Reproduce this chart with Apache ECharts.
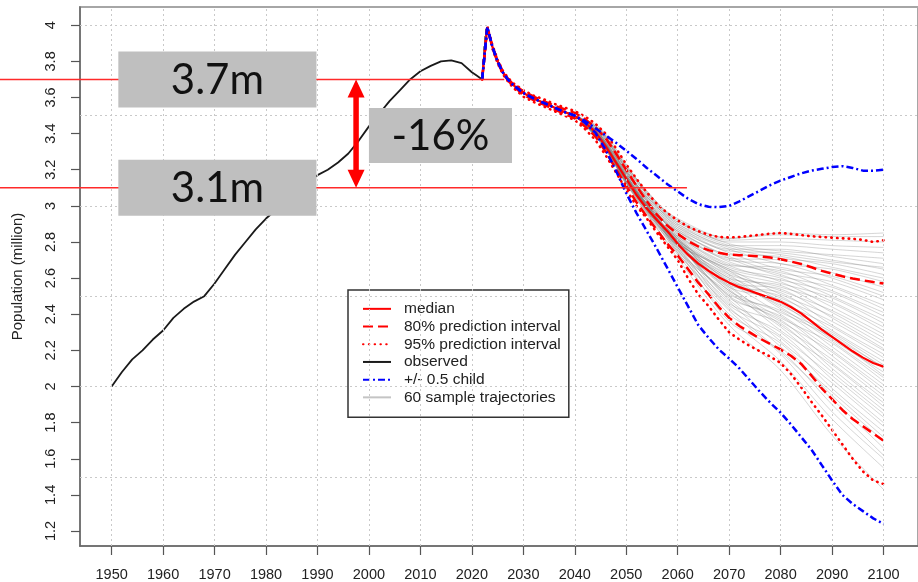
<!DOCTYPE html>
<html>
<head>
<meta charset="utf-8">
<script src="https://cdn.jsdelivr.net/npm/echarts@6/dist/echarts.min.js"></script>
<style>
html,body{margin:0;padding:0;background:#fff;}
#chart{width:918px;height:582px;}
</style>
</head>
<body>
<div id="chart"></div>
<script>
// ---------- data ----------
const obsYears = [1950,1952,1954,1956,1958,1960,1962,1964,1966,1968,1970,1972,1974,1976,1978,1980,1982,1984,1986,1988,1990,1992,1994,1996,1998,2000,2002,2004,2006,2008,2010,2012,2014,2016,2018,2020,2021,2022];
const obsValues = [2.00,2.08,2.15,2.20,2.26,2.31,2.38,2.43,2.47,2.50,2.57,2.65,2.73,2.80,2.87,2.93,2.98,3.03,3.08,3.13,3.17,3.20,3.24,3.29,3.36,3.44,3.51,3.58,3.64,3.70,3.745,3.775,3.80,3.805,3.79,3.74,3.72,3.70];

const fcYears = [2022,2023,2024,2025,2026,2027,2028,2030,2032,2034,2036,2038,2040,2042,2044,2046,2048,2050,2052,2054,2056,2058,2060,2062,2064,2066,2068,2070,2072,2074,2076,2078,2080,2082,2084,2086,2088,2090,2092,2094,2096,2098,2100];
const median = [3.70,3.99,3.88,3.80,3.74,3.70,3.67,3.625,3.595,3.57,3.545,3.52,3.50,3.46,3.41,3.33,3.24,3.15,3.06,2.985,2.92,2.86,2.79,2.73,2.68,2.64,2.605,2.575,2.55,2.53,2.51,2.49,2.47,2.44,2.405,2.36,2.315,2.275,2.235,2.195,2.16,2.13,2.11];
const hi80 = [3.70,3.99,3.885,3.805,3.745,3.705,3.675,3.635,3.605,3.58,3.555,3.535,3.515,3.48,3.435,3.375,3.29,3.20,3.11,3.025,2.95,2.89,2.845,2.805,2.775,2.755,2.74,2.73,2.727,2.724,2.72,2.714,2.705,2.692,2.678,2.66,2.64,2.625,2.61,2.598,2.588,2.578,2.57];
const lo80 = [3.70,3.99,3.875,3.795,3.735,3.695,3.665,3.615,3.585,3.56,3.535,3.51,3.485,3.44,3.385,3.30,3.205,3.11,3.02,2.94,2.865,2.79,2.725,2.65,2.575,2.51,2.44,2.38,2.335,2.30,2.265,2.235,2.205,2.17,2.125,2.06,1.99,1.93,1.87,1.82,1.78,1.74,1.70];
const hi95 = [3.70,3.99,3.89,3.81,3.75,3.71,3.68,3.64,3.61,3.59,3.565,3.545,3.525,3.495,3.455,3.40,3.32,3.23,3.15,3.075,3.01,2.96,2.92,2.885,2.86,2.84,2.828,2.825,2.828,2.834,2.84,2.846,2.85,2.845,2.838,2.832,2.828,2.824,2.82,2.818,2.812,2.80,2.81];
const lo95 = [3.70,3.99,3.87,3.79,3.73,3.69,3.655,3.605,3.575,3.55,3.525,3.50,3.475,3.425,3.365,3.28,3.185,3.09,3.00,2.93,2.85,2.775,2.70,2.60,2.51,2.445,2.37,2.30,2.26,2.225,2.195,2.165,2.13,2.07,1.995,1.915,1.84,1.76,1.68,1.60,1.53,1.48,1.46];
const childHi = [3.70,3.99,3.88,3.80,3.74,3.70,3.67,3.625,3.595,3.57,3.545,3.52,3.50,3.47,3.43,3.39,3.35,3.305,3.26,3.21,3.165,3.12,3.08,3.04,3.01,2.995,2.993,3.00,3.025,3.055,3.085,3.115,3.14,3.16,3.18,3.195,3.205,3.215,3.22,3.21,3.195,3.195,3.20];
const childLo = [3.70,3.99,3.88,3.80,3.74,3.70,3.67,3.625,3.595,3.57,3.545,3.52,3.50,3.46,3.405,3.31,3.195,3.07,2.96,2.86,2.76,2.655,2.55,2.445,2.34,2.27,2.205,2.155,2.10,2.035,1.97,1.91,1.855,1.79,1.72,1.65,1.565,1.48,1.40,1.35,1.31,1.27,1.24];

// sample trajectories: shared path up to 2040 (same as median), then these values
const trajYears = [2045,2050,2055,2060,2070,2080,2090,2100];
const trajectories = [
[3.36,3.12,2.92,2.71,2.34,2.09,1.73,1.43],[3.35,3.13,2.91,2.73,2.38,2.14,1.82,1.55],
[3.36,3.12,2.93,2.74,2.42,2.18,1.86,1.60],[3.35,3.14,2.92,2.76,2.36,2.20,1.90,1.62],
[3.37,3.13,2.94,2.74,2.44,2.19,1.93,1.66],[3.36,3.14,2.93,2.77,2.40,2.24,1.95,1.70],
[3.38,3.12,2.95,2.75,2.47,2.22,1.97,1.72],[3.36,3.15,2.93,2.78,2.43,2.27,1.99,1.75],
[3.37,3.13,2.96,2.76,2.50,2.25,2.02,1.78],[3.35,3.16,2.94,2.77,2.45,2.30,2.04,1.80],
[3.38,3.14,2.95,2.79,2.48,2.28,2.06,1.83],[3.37,3.15,2.97,2.75,2.52,2.33,2.08,1.85],
[3.36,3.13,2.94,2.80,2.46,2.35,2.10,1.87],[3.38,3.16,2.96,2.77,2.54,2.31,2.12,1.89],
[3.37,3.14,2.95,2.79,2.50,2.37,2.13,1.91],[3.36,3.15,2.97,2.78,2.56,2.34,2.15,1.93],
[3.38,3.13,2.95,2.81,2.49,2.39,2.17,1.95],[3.37,3.16,2.96,2.78,2.53,2.36,2.19,1.97],
[3.36,3.14,2.94,2.80,2.58,2.40,2.20,1.99],[3.38,3.15,2.97,2.79,2.51,2.42,2.22,2.01],
[3.37,3.16,2.95,2.81,2.55,2.38,2.24,2.03],[3.36,3.14,2.96,2.78,2.60,2.44,2.25,2.05],
[3.38,3.15,2.94,2.82,2.53,2.41,2.27,2.06],[3.37,3.13,2.97,2.79,2.57,2.46,2.26,2.08],
[3.36,3.16,2.95,2.81,2.62,2.43,2.29,2.10],[3.38,3.14,2.96,2.80,2.55,2.48,2.28,2.11],
[3.37,3.15,2.94,2.78,2.59,2.45,2.30,2.12],[3.36,3.17,2.97,2.82,2.57,2.50,2.31,2.14],
[3.38,3.14,2.95,2.79,2.64,2.47,2.33,2.16],[3.37,3.16,2.96,2.81,2.56,2.52,2.34,2.18],
[3.39,3.15,2.98,2.80,2.61,2.49,2.36,2.20],[3.37,3.17,2.95,2.83,2.58,2.54,2.38,2.21],
[3.38,3.14,2.97,2.79,2.65,2.51,2.39,2.23],[3.36,3.16,2.96,2.82,2.60,2.56,2.41,2.25],
[3.39,3.15,2.98,2.81,2.63,2.53,2.42,2.27],[3.37,3.17,2.96,2.83,2.67,2.58,2.44,2.29],
[3.38,3.16,2.97,2.80,2.62,2.55,2.46,2.31],[3.39,3.18,2.99,2.84,2.66,2.60,2.47,2.33],
[3.37,3.15,2.96,2.82,2.64,2.57,2.49,2.35],[3.38,3.17,2.98,2.85,2.69,2.62,2.50,2.37],
[3.39,3.16,2.97,2.81,2.65,2.59,2.52,2.39],[3.38,3.18,2.99,2.84,2.68,2.64,2.53,2.41],
[3.37,3.17,2.98,2.86,2.71,2.61,2.55,2.43],[3.39,3.19,3.00,2.83,2.67,2.66,2.56,2.45],
[3.38,3.17,2.98,2.86,2.72,2.63,2.58,2.48],[3.40,3.18,3.00,2.85,2.70,2.68,2.60,2.50],
[3.38,3.19,2.99,2.87,2.74,2.65,2.61,2.52],[3.39,3.18,3.01,2.86,2.71,2.70,2.63,2.55],
[3.40,3.20,3.00,2.88,2.76,2.68,2.65,2.58],[3.39,3.19,3.02,2.87,2.73,2.72,2.66,2.60],
[3.41,3.20,3.01,2.89,2.77,2.71,2.68,2.62],[3.40,3.21,3.03,2.88,2.75,2.74,2.70,2.65],
[3.41,3.19,3.02,2.90,2.78,2.73,2.69,2.66],[3.40,3.21,3.03,2.89,2.76,2.76,2.72,2.68],
[3.42,3.20,3.02,2.91,2.79,2.75,2.73,2.71],[3.41,3.22,3.04,2.90,2.78,2.78,2.76,2.74],
[3.42,3.21,3.03,2.92,2.80,2.80,2.78,2.77],[3.42,3.22,3.05,2.91,2.81,2.82,2.81,2.80],
[3.43,3.23,3.04,2.93,2.82,2.84,2.83,2.83],[3.42,3.22,3.05,2.92,2.82,2.85,2.84,2.85]
];

const xTicks = [1950,1960,1970,1980,1990,2000,2010,2020,2030,2040,2050,2060,2070,2080,2090,2100];
const yTicks = [1.2,1.4,1.6,1.8,2,2.2,2.4,2.6,2.8,3,3.2,3.4,3.6,3.8,4];
const yGrid = [1.5,2,2.5,3,3.5,4];

// annotations (overlay)
const refLevels = [3.7, 3.1];
const refLabels = ['3.7m', '3.1m'];
const changeLabel = '-16%';

// ---------- build ----------
const pairs = (xs, ys) => xs.map((x, i) => [x, ys[i]]);
const FONT = 'Liberation Sans';
const RED = '#ff0000', BLUE = '#0000ff';

const series = [];
// dotted grid
series.push({
  type: 'line', name: 'gridlines', data: [[1950, 2]], symbol: 'none', silent: true, z: 1,
  lineStyle: { opacity: 0 }, animation: false,
  markLine: {
    silent: true, symbol: ['none', 'none'], animation: false,
    label: { show: false },
    lineStyle: { type: [2, 3], color: '#c9c9c9', width: 1 },
    emphasis: { disabled: true },
    data: yGrid.map(v => ({ yAxis: v })).concat(xTicks.map(v => ({ xAxis: v })))
  }
});
const trajPrefixYears = fcYears.slice(0, 13);
const trajPrefixVals = median.slice(0, 13);
trajectories.forEach(row => {
  series.push({
    type: 'line', name: '60 sample trajectories', symbol: 'none', silent: true, z: 2,
    smooth: 0.3, lineStyle: { color: 'rgba(120,120,120,0.3)', width: 1 },
    data: pairs(trajPrefixYears.concat(trajYears), trajPrefixVals.concat(row))
  });
});
[hi95, lo95].forEach(arr => series.push({
  type: 'line', name: '95% prediction interval', symbol: 'none', silent: true, z: 3,
  lineStyle: { color: RED, width: 2.6, type: [0.5, 5.3], cap: 'round' },
  data: pairs(fcYears, arr)
}));
[hi80, lo80].forEach(arr => series.push({
  type: 'line', name: '80% prediction interval', symbol: 'none', silent: true, z: 3,
  lineStyle: { color: RED, width: 2.5, type: [10, 5] },
  data: pairs(fcYears, arr)
}));
series.push({
  type: 'line', name: 'median', symbol: 'none', silent: true, z: 4,
  lineStyle: { color: RED, width: 2.2 }, data: pairs(fcYears, median)
});
series.push({
  type: 'line', name: 'observed', symbol: 'none', silent: true, z: 4,
  lineStyle: { color: '#1a1a1a', width: 1.8 }, data: pairs(obsYears, obsValues)
});
[childHi, childLo].forEach(arr => series.push({
  type: 'line', name: '+/- 0.5 child', symbol: 'none', silent: true, z: 5,
  lineStyle: { color: BLUE, width: 2.5, type: [7, 3, 2, 3] },
  data: pairs(fcYears, arr)
}));

const hiddenIcon = { opacity: 0 };
const chart = echarts.init(document.getElementById('chart'));
chart.setOption({
  animation: false,
  backgroundColor: '#fff',
  textStyle: { fontFamily: FONT },
  grid: { left: 80, right: -2, top: 7, bottom: 35, show: true, borderColor: '#a6a6a6', borderWidth: 2 },
  legend: {
    left: 348, top: 290, orient: 'vertical', selectedMode: false,
    backgroundColor: '#fff', borderColor: '#333', borderWidth: 1.5,
    padding: [10, 8, 11, 14], itemWidth: 28, itemHeight: 14, itemGap: 0,
    itemStyle: { opacity: 0 },
    textStyle: { fontFamily: FONT, fontSize: 15.5, color: '#222', lineHeight: 17.7, padding: [0, 0, 0, 8] },
    data: [
      { name: 'median', itemStyle: hiddenIcon },
      { name: '80% prediction interval', itemStyle: hiddenIcon },
      { name: '95% prediction interval', itemStyle: hiddenIcon },
      { name: 'observed', itemStyle: hiddenIcon },
      { name: '+/- 0.5 child', itemStyle: hiddenIcon },
      { name: '60 sample trajectories', itemStyle: hiddenIcon, lineStyle: { color: '#c4c4c4', width: 2 } }
    ]
  },
  xAxis: {
    type: 'value', min: 1943.85, max: 2106.7,
    axisLine: { show: true, lineStyle: { color: '#666', width: 1.5 } },
    axisTick: { show: true, length: 9, customValues: xTicks, lineStyle: { color: '#555', width: 1.2 } },
    axisLabel: { customValues: xTicks, margin: 21, fontSize: 14.5, color: '#222', fontFamily: FONT,
      formatter: v => String(v) },
    splitLine: { show: false }
  },
  yAxis: {
    type: 'value', min: 1.117, max: 4.101,
    name: 'Population (million)', nameLocation: 'middle', nameGap: 55,
    nameTextStyle: { fontSize: 15, color: '#222', fontFamily: FONT },
    axisLine: { show: true, lineStyle: { color: '#666', width: 1.5 } },
    axisTick: { show: true, length: 9, customValues: yTicks, lineStyle: { color: '#555', width: 1.2 } },
    axisLabel: { customValues: yTicks, rotate: 90, margin: 22, fontSize: 14.5, color: '#222', fontFamily: FONT },
    splitLine: { show: false }
  },
  series: series
});

// ---------- overlay annotations ----------
const px = (x, y) => chart.convertToPixel({ gridIndex: 0 }, [x, y]);
const yTop = px(2000, refLevels[0])[1];
const yBot = px(2000, refLevels[1])[1];
const lineEnds = [px(2026.3, 0)[0], px(2061.8, 0)[0]];
const boxL = px(1951.3, 0)[0], boxR = px(1989.8, 0)[0];
const chL = px(2000.0, 0)[0], chR = px(2027.8, 0)[0];
const arrowX = px(1997.5, 0)[0];
const g = [];
[yTop, yBot].forEach((yy, i) => {
  g.push({ type: 'line', z: 50, silent: true, shape: { x1: 0, y1: yy, x2: lineEnds[i], y2: yy },
    style: { stroke: '#ff2a2a', lineWidth: 1.5 } });
  g.push({ type: 'rect', z: 60, silent: true, shape: { x: boxL, y: yy - 28, width: boxR - boxL, height: 56 },
    style: { fill: '#bfbfbf' } });
  g.push({ type: 'text', z: 61, silent: true, x: (boxL + boxR) / 2, y: yy + 1,
    style: { text: refLabels[i], font: '42px Lato', fill: '#111', align: 'center', verticalAlign: 'middle' } });
});
const ym = (yTop + yBot) / 2 + 2;
g.push({ type: 'rect', z: 60, silent: true, shape: { x: chL, y: ym - 27.5, width: chR - chL, height: 55 },
  style: { fill: '#bfbfbf' } });
g.push({ type: 'text', z: 61, silent: true, x: (chL + chR) / 2, y: ym + 1,
  style: { text: changeLabel, font: '42px Lato', fill: '#111', align: 'center', verticalAlign: 'middle' } });
const hh = 18, hw = 17, sw = 5.5;
g.push({ type: 'polygon', z: 70, silent: true, shape: { points: [
  [arrowX, yTop], [arrowX + hw / 2, yTop + hh], [arrowX + sw / 2, yTop + hh],
  [arrowX + sw / 2, yBot - hh], [arrowX + hw / 2, yBot - hh], [arrowX, yBot],
  [arrowX - hw / 2, yBot - hh], [arrowX - sw / 2, yBot - hh], [arrowX - sw / 2, yTop + hh],
  [arrowX - hw / 2, yTop + hh]
] }, style: { fill: '#ff0000' } });
chart.setOption({ graphic: g });
</script>
</body>
</html>
